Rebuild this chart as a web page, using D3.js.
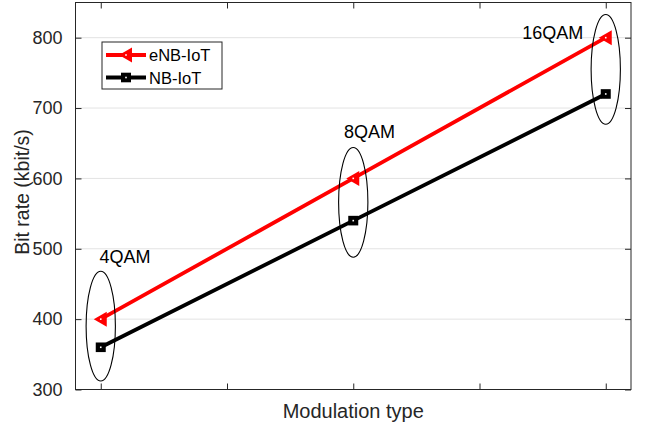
<!DOCTYPE html>
<html>
<head>
<meta charset="utf-8">
<script src="https://cdn.jsdelivr.net/npm/d3@7"></script>
<style>
  body { margin: 0; background: #fff; }
  text { font-family: "Liberation Sans", Arial, sans-serif; }
</style>
</head>
<body>
<svg id="chart" width="646" height="428"></svg>
<script>
// data
var modulations = ['4QAM', '8QAM', '16QAM'];
var positions = [1, 2, 3];
var enbIot = [400, 600, 800];
var nbIot = [360, 540, 720];
var yTicks = [300, 400, 500, 600, 700, 800];
var xTicks = [1, 1.5, 2, 2.5, 3];
// ellipse groups round each pair of points (data units)
var ellipseCy = [390, 566, 755];
var ellipseRy = 78;
var ellipseRx = 0.058;
var labelX = [1.096, 2.064, 2.79];
var labelY = [480, 657, 798];

var svg = d3.select('#chart');
var plotL = 75.5, plotR = 631, plotT = 2.5, plotB = 389.5;

var x = d3.scaleLinear().domain([0.9, 3.1]).range([plotL, plotR]);
var y = d3.scaleLinear().domain([300, 850]).range([plotB, plotT]);

var axisCol = '#262626';

// grid
svg.append('g')
    .selectAll('line')
    .data(yTicks.slice(1))
    .enter()
    .append('line')
        .attr('x1', plotL).attr('x2', plotR)
        .attr('y1', function(d) { return y(d); })
        .attr('y2', function(d) { return y(d); })
        .attr('stroke', '#e3e3e3')
        .attr('stroke-width', 1);

// axes with inward ticks
var yAxis = d3.axisLeft(y).tickValues(yTicks).tickSize(-6).tickPadding(13);
var gy = svg.append('g').attr('transform', 'translate(' + plotL + ',0)').call(yAxis);
gy.select('.domain').remove();
gy.selectAll('text').attr('font-size', 18).attr('fill', axisCol)
    .attr('font-family', '"Liberation Sans", Arial, sans-serif');
gy.selectAll('line').attr('stroke', axisCol);

var yRight = d3.axisRight(y).tickValues(yTicks).tickSize(-6).tickFormat('');
var gyr = svg.append('g').attr('transform', 'translate(' + plotR + ',0)').call(yRight);
gyr.select('.domain').remove();
gyr.selectAll('line').attr('stroke', axisCol);

var xBottom = d3.axisBottom(x).tickValues(xTicks).tickSize(-6).tickFormat('');
var gxb = svg.append('g').attr('transform', 'translate(0,' + plotB + ')').call(xBottom);
gxb.select('.domain').remove();
gxb.selectAll('line').attr('stroke', axisCol);

var xTop = d3.axisTop(x).tickValues(xTicks).tickSize(-6).tickFormat('');
var gxt = svg.append('g').attr('transform', 'translate(0,' + plotT + ')').call(xTop);
gxt.select('.domain').remove();
gxt.selectAll('line').attr('stroke', axisCol);

svg.append('rect')
    .attr('x', plotL).attr('y', plotT)
    .attr('width', plotR - plotL).attr('height', plotB - plotT)
    .attr('fill', 'none')
    .attr('stroke', axisCol)
    .attr('stroke-width', 1);

// lines
var line = d3.line()
    .x(function(d, i) { return x(positions[i]); })
    .y(function(d) { return y(d); });

svg.append('path').datum(nbIot)
    .attr('d', line)
    .attr('fill', 'none')
    .attr('stroke', '#000')
    .attr('stroke-width', 3.8);

svg.append('path').datum(enbIot)
    .attr('d', line)
    .attr('fill', 'none')
    .attr('stroke', '#ff0000')
    .attr('stroke-width', 3.8);

function triangle(sel, cx, cy) {
    sel.append('path')
        .attr('d', 'M' + (cx - 7) + ',' + cy + 'L' + (cx + 6) + ',' + (cy - 7.5) +
            'L' + (cx + 6) + ',' + (cy + 7.5) + 'Z')
        .attr('fill', '#ff0000');
    sel.append('rect')
        .attr('x', cx - 0.8).attr('y', cy - 0.8)
        .attr('width', 1.6).attr('height', 1.6)
        .attr('fill', '#fff');
}

function square(sel, cx, cy) {
    sel.append('rect')
        .attr('x', cx - 5).attr('y', cy - 4.8)
        .attr('width', 10).attr('height', 9.6)
        .attr('fill', '#000');
    sel.append('rect')
        .attr('x', cx - 0.8).attr('y', cy - 0.8)
        .attr('width', 1.6).attr('height', 1.6)
        .attr('fill', '#fff');
}

var marks = svg.append('g');
nbIot.forEach(function(v, i) { square(marks, x(positions[i]), y(v)); });
enbIot.forEach(function(v, i) { triangle(marks, x(positions[i]), y(v)); });

// ellipses and labels
svg.append('g')
    .selectAll('ellipse')
    .data(positions)
    .enter()
    .append('ellipse')
        .attr('cx', function(d) { return x(d); })
        .attr('cy', function(d, i) { return y(ellipseCy[i]); })
        .attr('rx', x(1 + ellipseRx) - x(1))
        .attr('ry', y(300) - y(300 + ellipseRy))
        .attr('fill', 'none')
        .attr('stroke', '#000')
        .attr('stroke-width', 1.1);

svg.append('g')
    .selectAll('text')
    .data(modulations)
    .enter()
    .append('text')
        .attr('x', function(d, i) { return x(labelX[i]); })
        .attr('y', function(d, i) { return y(labelY[i]); })
        .attr('text-anchor', 'middle')
        .attr('font-size', 18)
        .attr('fill', '#000')
        .text(function(d) { return d; });

// axis titles
svg.append('text')
    .attr('x', (plotL + plotR) / 2)
    .attr('y', 418)
    .attr('text-anchor', 'middle')
    .attr('font-size', 20)
    .attr('fill', axisCol)
    .text('Modulation type');

svg.append('text')
    .attr('transform', 'translate(29,192) rotate(-90)')
    .attr('text-anchor', 'middle')
    .attr('font-size', 19.5)
    .attr('fill', axisCol)
    .text('Bit rate (kbit/s)');

// legend
var legend = svg.append('g');
legend.append('rect')
    .attr('x', 102).attr('y', 42)
    .attr('width', 120).attr('height', 47)
    .attr('fill', '#fff')
    .attr('stroke', axisCol)
    .attr('stroke-width', 1);

var legendItems = [
    { name: 'eNB-IoT', color: '#ff0000', marker: triangle, cy: 55 },
    { name: 'NB-IoT', color: '#000', marker: square, cy: 77.5 }
];
legendItems.forEach(function(item) {
    legend.append('line')
        .attr('x1', 106).attr('x2', 146)
        .attr('y1', item.cy).attr('y2', item.cy)
        .attr('stroke', item.color)
        .attr('stroke-width', 3.8);
    item.marker(legend, 126, item.cy);
    legend.append('text')
        .attr('x', 149)
        .attr('y', item.cy + 6)
        .attr('font-size', 16.5)
        .attr('fill', '#000')
        .text(item.name);
});
</script>
</body>
</html>
